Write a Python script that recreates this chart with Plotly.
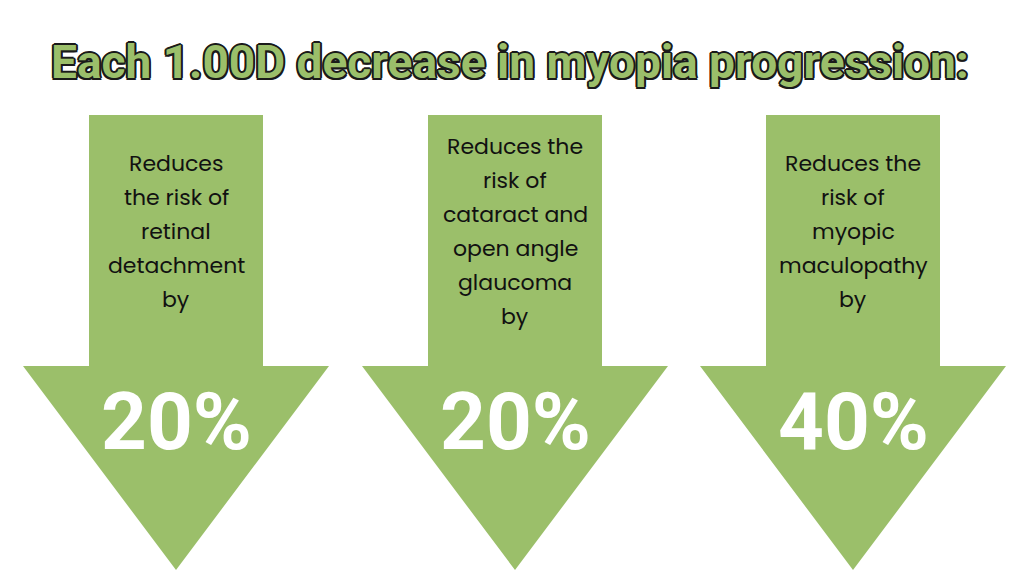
import plotly.graph_objects as go

title = "Each 1.00D decrease in myopia progression:"
descriptions = [
    ["Reduces", "the risk of", "retinal", "detachment", "by"],
    ["Reduces the", "risk of", "cataract and", "open angle", "glaucoma", "by"],
    ["Reduces the", "risk of", "myopic", "maculopathy", "by"],
]
percents = ["20%", "20%", "40%"]
centers = [168, 507, 845]
OFF = -8

GREEN = "#9bbf6a"
fig = go.Figure()
shapes = []
ann = []
for i, cx in enumerate(centers):
    path = (f"M {cx-87},{115+OFF} L {cx+87},{115+OFF} L {cx+87},{366+OFF} L {cx+153},{366+OFF} "
            f"L {cx},{570+OFF} L {cx-153},{366+OFF} L {cx-87},{366+OFF} Z")
    shapes.append(dict(type="path", path=path, fillcolor=GREEN, line_width=0, layer="below"))
    lines = descriptions[i]
    start = (163 if len(lines) == 5 else 146) + OFF
    for j, t in enumerate(lines):
        ann.append(dict(x=cx, y=start + 34 * j, text=t, showarrow=False,
                        font=dict(family="Poppins, Open Sans, sans-serif", size=22, color="#111")))
    ann.append(dict(x=cx, y=422 + OFF, text=f"<b>{percents[i]}</b>", showarrow=False,
                    font=dict(family="Roboto, sans-serif", size=80, color="white")))

outline = ",".join(f"{dx}px {dy}px 0 #1a1a1a" for dx, dy in
                   [(2, 0), (-2, 0), (0, 2), (0, -2), (1.5, 1.5), (-1.5, -1.5), (1.5, -1.5), (-1.5, 1.5)])
ann.append(dict(x=502, y=62 + OFF, text=f"<b>{title}</b>", showarrow=False,
                font=dict(family="Roboto, sans-serif", size=46, color=GREEN,
                          weight=900, shadow=outline)))

fig.update_layout(
    width=1030, height=579, margin=dict(l=0, r=0, t=0, b=0),
    paper_bgcolor="white", plot_bgcolor="white", showlegend=False,
    xaxis=dict(range=[0, 1030], visible=False, fixedrange=True),
    yaxis=dict(range=[579, 0], visible=False, fixedrange=True),
    shapes=shapes, annotations=ann,
)
fig.write_html("out.html")
